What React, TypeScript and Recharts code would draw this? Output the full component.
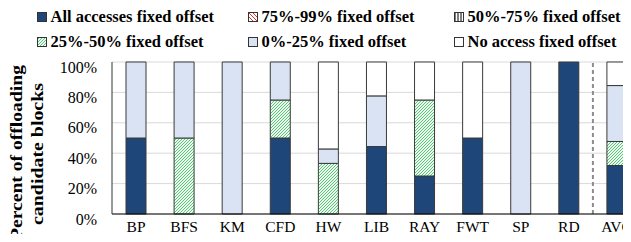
import React from "react";
import {
  BarChart,
  Bar,
  XAxis,
  YAxis,
  CartesianGrid,
  ReferenceLine,
} from "recharts";

const categories = ["BP", "BFS", "KM", "CFD", "HW", "LIB", "RAY", "FWT", "SP", "RD", "AVG"];
const allFixed = [50, 0, 0, 50, 0, 44.4, 25, 50, 0, 100, 31.9];
const fixed75to99 = [0, 0, 0, 0, 0, 0, 0, 0, 0, 0, 0];
const fixed50to75 = [0, 0, 0, 0, 0, 0, 0, 0, 0, 0, 0];
const fixed25to50 = [0, 50, 0, 25, 33.3, 0, 50, 0, 0, 0, 15.8];
const fixed0to25 = [50, 50, 100, 25, 9.5, 33.3, 0, 0, 100, 0, 36.8];
const noFixed = [0, 0, 0, 0, 57.2, 22.3, 25, 50, 0, 0, 15.5];
const yTicks = [0, 20, 40, 60, 80, 100];

const seriesKeys = ["all", "p75", "p50", "p25", "p0", "none"];
const seriesNames = [
  "All accesses fixed offset",
  "75%-99% fixed offset",
  "50%-75% fixed offset",
  "25%-50% fixed offset",
  "0%-25% fixed offset",
  "No access fixed offset",
];
const seriesFills = [
  "#1f4678",
  "url(#patRed)",
  "url(#patVert)",
  "url(#patGreen)",
  "#dae3f3",
  "#ffffff",
];
const seriesValues = [allFixed, fixed75to99, fixed50to75, fixed25to50, fixed0to25, noFixed];

const data = categories.map((c, i) => {
  const row: Record<string, any> = { name: c };
  seriesKeys.forEach((k, j) => {
    row[k] = seriesValues[j][i];
  });
  return row;
});

const legendPos = [
  { x: 37, y: 17 },
  { x: 248, y: 17 },
  { x: 454, y: 17 },
  { x: 37, y: 42 },
  { x: 248, y: 42 },
  { x: 454, y: 42 },
];

const FONT = '"Liberation Serif"';

const YTick = (props: any) => {
  const { x, y, payload } = props;
  return (
    <text x={x} y={y + 10.5} textAnchor="end" style={{ fontFamily: FONT }} fontSize={16} fill="#000">
      {payload.value}%
    </text>
  );
};

const XTick = (props: any) => {
  const { x, y, payload } = props;
  return (
    <text x={x} y={y + 18} textAnchor="middle" style={{ fontFamily: FONT }} fontSize={15.5} fill="#000">
      {payload.value}
    </text>
  );
};

const Patterns = () => (
  <svg width={0} height={0} style={{ position: "absolute" }}>
    <defs>
      <pattern id="patGreen" width={3} height={3} patternUnits="userSpaceOnUse">
        <rect width={3} height={3} fill="#eef9f1" />
        <path d="M-1,1 l2,-2 M0,3 l3,-3 M2,4 l2,-2" stroke="#45c266" strokeWidth={0.9} />
      </pattern>
      <pattern id="patRed" width={4} height={4} patternUnits="userSpaceOnUse">
        <rect width={4} height={4} fill="#ffffff" />
        <path d="M-1,3 l2,2 M0,0 l4,4 M3,-1 l2,2" stroke="#e03030" strokeWidth={1} />
      </pattern>
      <pattern id="patVert" width={3} height={3} patternUnits="userSpaceOnUse">
        <rect width={3} height={3} fill="#ffffff" />
        <path d="M1,0 v3" stroke="#000" strokeWidth={1} />
      </pattern>
    </defs>
  </svg>
);

export default function App() {
  return (
    <div
      style={{
        position: "relative",
        width: 631,
        height: 242,
        margin: -8,
        overflow: "hidden",
        background: "#fff",
        fontFamily: FONT,
      }}
    >
      <Patterns />
      <svg
        width={631}
        height={12}
        style={{ position: "absolute", left: 0, top: 0 }}
      >
        <text x={8} y={3} style={{ fontFamily: FONT }} fontWeight="bold" fontSize={16.5} fill="#000">
          make two observations based on the results.
        </text>
      </svg>
      {seriesNames.map((n, i) => (
        <div
          key={n}
          style={{
            position: "absolute",
            left: legendPos[i].x,
            top: legendPos[i].y - 10,
            height: 20,
            display: "flex",
            alignItems: "center",
            whiteSpace: "nowrap",
            fontFamily: FONT,
            fontWeight: "bold",
            fontSize: 16.5,
            color: "#000",
          }}
        >
          <svg width={10} height={10} style={{ marginRight: 3.5, display: "block" }}>
            <rect x={0.5} y={0.5} width={9} height={9} fill={seriesFills[i]} stroke="#333" strokeWidth={1} />
          </svg>
          <span>{n}</span>
        </div>
      ))}
      <svg width={60} height={242} style={{ position: "absolute", left: 0, top: 0 }}>
        <text
          transform="translate(22,152.5) rotate(-90)"
          textAnchor="middle"
          style={{ fontFamily: FONT }}
          fontWeight="bold"
          fontSize={16}
          textLength={175}
          lengthAdjust="spacingAndGlyphs"
          fill="#000"
        >
          Percent of offloading
        </text>
        <text
          transform="translate(43,154) rotate(-90)"
          textAnchor="middle"
          style={{ fontFamily: FONT }}
          fontWeight="bold"
          fontSize={16}
          textLength={142}
          lengthAdjust="spacingAndGlyphs"
          fill="#000"
        >
          candidate blocks
        </text>
      </svg>
      <div style={{ position: "absolute", left: 0, top: 0 }}>
        <BarChart
          width={660}
          height={242}
          data={data}
          margin={{ top: 62, right: 19, left: 0, bottom: 0 }}
        >
          <CartesianGrid vertical={false} stroke="#d9d9d9" strokeWidth={1} />
          <XAxis
            dataKey="name"
            height={28}
            axisLine={{ stroke: "#000", strokeWidth: 1.2 }}
            tickLine={false}
            tickSize={0}
            tickMargin={0}
            tick={<XTick />}
            interval={0}
          />
          <YAxis
            width={112}
            domain={[0, 100]}
            ticks={yTicks}
            axisLine={{ stroke: "#333", strokeWidth: 1 }}
            tickLine={false}
            tickSize={0}
            tickMargin={15}
            tick={<YTick />}
            interval={0}
          />
          {seriesKeys.map((k, i) => (
            <Bar
              key={k}
              dataKey={k}
              stackId="a"
              fill={seriesFills[i]}
              stroke="#3a3a3a"
              strokeWidth={1}
              barSize={20}
              isAnimationActive={false}
            />
          ))}
          <ReferenceLine
            x="AVG"
            position="start"
            stroke="#8c8c8c"
            strokeWidth={2}
            strokeDasharray="4 3"
          />
        </BarChart>
      </div>
    </div>
  );
}
